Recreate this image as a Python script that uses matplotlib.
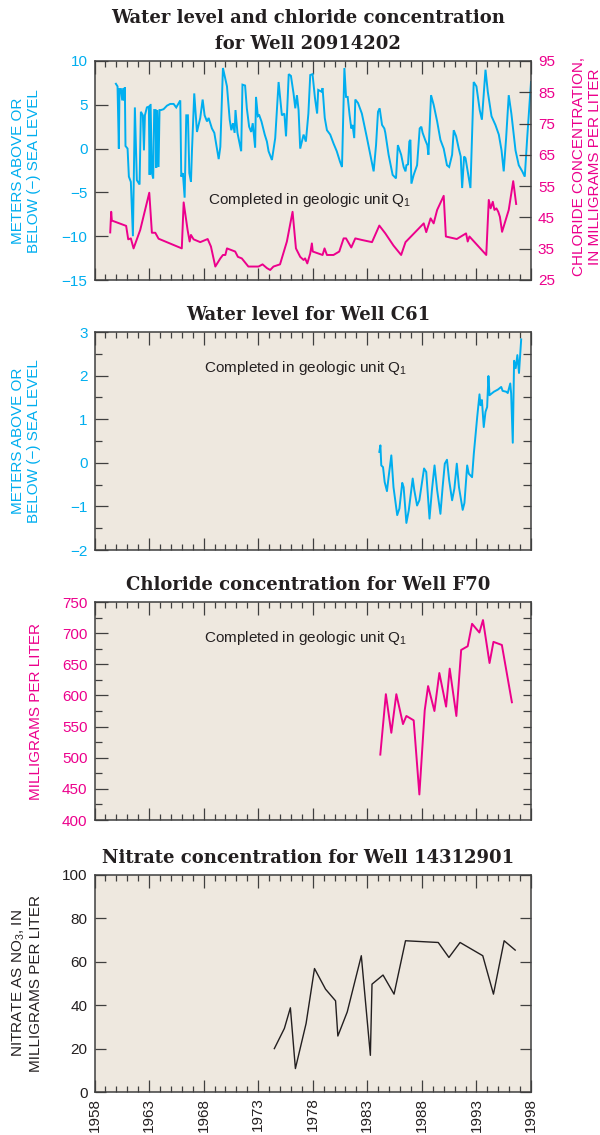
import numpy as np
import matplotlib
matplotlib.use("Agg")
import matplotlib.pyplot as plt
import matplotlib.transforms as mtransforms
from matplotlib.ticker import MultipleLocator, FixedLocator

plt.rcParams['font.family'] = ['Liberation Sans', 'DejaVu Sans']
plt.rcParams['mathtext.fontset'] = 'custom'
plt.rcParams['mathtext.rm'] = 'Liberation Sans'
plt.rcParams['mathtext.it'] = 'Liberation Sans:italic'
plt.rcParams['axes.unicode_minus'] = True

# ---------------- data ----------------
# Well 20914202 water level (m above/below sea level)
wl1_year = [1959.96, 1960.11, 1960.23, 1960.29, 1960.42, 1960.54, 1960.63, 1960.72, 1960.78, 1960.84,
            1961.03, 1961.15, 1961.33, 1961.52, 1961.70, 1961.88, 1962.13, 1962.25, 1962.43, 1962.53,
            1962.62, 1962.80, 1962.98, 1963.05, 1963.14, 1963.26, 1963.38, 1963.47, 1963.60, 1963.66,
            1963.75, 1963.87, 1963.96, 1964.09, 1964.33, 1964.64, 1964.94, 1965.25, 1965.49, 1965.86,
            1965.95, 1966.10, 1966.26, 1966.41, 1966.56, 1966.69, 1966.84, 1966.93, 1967.14, 1967.39,
            1967.69, 1967.91, 1968.09, 1968.31, 1968.46, 1968.76, 1968.98, 1969.38, 1969.53, 1969.77,
            1970.14, 1970.39, 1970.54, 1970.69, 1970.84, 1970.92, 1971.10, 1971.44, 1971.56, 1971.80,
            1971.96, 1972.17, 1972.36, 1972.50, 1972.72, 1972.80, 1972.97, 1973.10, 1973.30, 1973.60,
            1973.80, 1973.95, 1974.26, 1974.56, 1974.87, 1975.17, 1975.40, 1975.55, 1975.80, 1976.00,
            1976.24, 1976.40, 1976.55, 1976.70, 1976.85, 1977.16, 1977.37, 1977.60, 1977.77, 1977.98,
            1978.20, 1978.40, 1978.50, 1978.80, 1978.90, 1979.10, 1979.30, 1979.60, 1979.90, 1980.20,
            1980.50, 1980.68, 1980.77, 1980.90, 1981.05, 1981.20, 1981.38, 1981.53, 1981.65, 1981.80,
            1981.90, 1982.15, 1982.50, 1982.97, 1983.27, 1983.58, 1983.80, 1983.98, 1984.13, 1984.35,
            1984.56, 1984.65, 1984.95, 1985.32, 1985.63, 1985.80, 1986.10, 1986.33, 1986.50, 1986.58,
            1986.73, 1986.85, 1986.95, 1987.04, 1987.25, 1987.56, 1987.80, 1987.95, 1988.07, 1988.30,
            1988.50, 1988.60, 1988.84, 1989.08, 1989.40, 1989.70, 1990.00, 1990.30, 1990.50, 1990.77,
            1990.92, 1991.14, 1991.38, 1991.56, 1991.69, 1991.87, 1992.00, 1992.20, 1992.45, 1992.75,
            1993.00, 1993.30, 1993.50, 1993.83, 1994.04, 1994.38, 1994.74, 1995.05, 1995.30, 1995.50,
            1995.72, 1995.96, 1996.20, 1996.58, 1996.88, 1997.20, 1997.43, 1997.65, 1998.00]
wl1_value = [7.4, 7.1, 0.0, 6.8, 6.8, 5.5, 6.9, 5.5, 7.0, 0.3,
             0.0, -3.2, -3.8, -10.0, 4.7, -3.6, -4.1, 4.2, 3.8, -0.2,
             3.8, 4.7, 4.8, -3.0, 5.1, -2.8, -3.4, 4.4, 4.4, -2.2,
             4.4, -2.1, 4.4, 4.4, 4.5, 4.9, 5.1, 5.1, 4.7, 5.5,
             -3.2, -2.8, -5.6, 3.8, 3.8, -2.8, -3.8, -0.3, 6.3, 1.9,
             3.5, 5.6, 3.8, 3.1, 3.5, 2.3, 1.8, -1.2, 0.2, 9.2,
             7.1, 3.3, 2.1, 2.9, 1.8, 4.4, 1.8, -0.3, 7.3, 7.2,
             4.6, 2.5, 1.9, 2.9, 0.1, 5.9, 3.7, 3.8, 3.1, 1.6,
             0.8, -0.3, -1.3, 1.2, 7.6, 3.8, 4.0, 1.4, 8.5, 8.3,
             6.3, 4.6, 6.1, 4.4, 0.0, 1.6, 0.8, 4.0, 8.4, 8.5,
             5.8, 4.0, 6.7, 6.5, 6.9, 3.5, 2.1, 1.6, 0.6, -0.3,
             -1.5, -2.1, 2.7, 9.2, 5.9, 5.9, 3.8, 2.3, 2.7, 1.2,
             5.6, 5.2, 4.0, 1.2, -0.7, -2.6, 0.4, 4.2, 4.6, 2.7,
             2.3, 1.8, -0.7, -3.0, -3.4, 0.4, -0.7, -2.1, -2.6, -1.9,
             -1.8, 0.8, 1.0, -4.0, -3.0, -1.9, 2.3, 2.5, 1.8, 1.0,
             0.4, -0.7, 6.1, 5.0, 3.1, 1.0, 0.0, -1.9, -2.1, -0.7,
             2.1, 1.4, 0.0, -0.9, -4.5, -0.9, -1.1, -2.6, -4.5, 7.6,
             7.1, 4.4, 3.3, 9.0, 6.5, 3.7, 2.7, 1.6, -0.2, -2.6,
             1.2, 6.1, 4.0, -0.2, -1.9, -2.6, -3.2, 1.2, 7.6]

# Well 20914202 chloride (mg/L)
cl1_year = [1959.44, 1959.53, 1959.59, 1960.90, 1961.09, 1961.33, 1961.58, 1962.19, 1963.02, 1963.26,
            1963.57, 1963.87, 1966.00, 1966.17, 1966.53, 1966.72, 1966.84, 1967.08, 1967.69, 1968.37,
            1968.67, 1969.07, 1969.53, 1969.77, 1969.99, 1970.14, 1970.89, 1971.14, 1971.50, 1972.10,
            1973.03, 1973.40, 1973.80, 1974.10, 1974.40, 1975.00, 1975.63, 1976.15, 1976.46, 1976.85,
            1977.16, 1977.30, 1977.50, 1977.77, 1977.92, 1978.00, 1978.90, 1979.08, 1979.30, 1979.90,
            1980.43, 1980.83, 1981.05, 1981.53, 1981.90, 1982.50, 1983.43, 1984.10, 1984.65, 1985.40,
            1986.10, 1986.50, 1988.17, 1988.40, 1988.80, 1989.08, 1989.40, 1990.00, 1990.20, 1991.20,
            1992.05, 1992.20, 1992.36, 1993.90, 1994.13, 1994.30, 1994.50, 1994.65, 1994.83, 1995.00,
            1995.15, 1995.35, 1995.96, 1996.37, 1996.64]
cl1_value = [40.2, 46.8, 44.0, 42.3, 38.0, 38.3, 35.1, 41.0, 52.9, 40.1,
             40.1, 38.2, 35.1, 49.8, 41.0, 37.3, 39.4, 38.0, 37.1, 38.1,
             35.7, 29.3, 31.9, 33.0, 33.0, 35.1, 34.1, 32.4, 31.9, 29.3,
             29.3, 30.0, 28.8, 28.2, 29.3, 30.0, 37.3, 46.8, 35.1, 32.4,
             31.4, 31.9, 30.3, 33.5, 36.7, 34.1, 33.0, 35.1, 33.0, 33.0,
             34.1, 38.3, 38.3, 35.4, 38.3, 37.8, 37.1, 42.4, 39.9, 36.0,
             33.0, 37.1, 43.1, 40.3, 44.7, 43.1, 47.4, 51.9, 38.9, 38.1,
             39.9, 37.3, 38.9, 33.0, 50.6, 47.9, 50.0, 47.4, 47.9, 46.8,
             45.2, 40.4, 47.4, 56.6, 49.3]

# Well C61 water level (m)
wl2_year = [1984.10, 1984.20, 1984.28, 1984.44, 1984.59, 1984.80, 1984.95, 1985.20, 1985.40, 1985.74,
            1985.94, 1986.20, 1986.33, 1986.58, 1986.80, 1987.16, 1987.30, 1987.56, 1987.77, 1988.20,
            1988.40, 1988.70, 1988.92, 1989.16, 1989.40, 1989.70, 1989.90, 1990.10, 1990.30, 1990.50,
            1990.77, 1990.98, 1991.20, 1991.40, 1991.74, 1991.90, 1992.15, 1992.30, 1992.60, 1992.76,
            1993.07, 1993.28, 1993.37, 1993.50, 1993.67, 1993.83, 1993.98, 1994.10, 1994.20, 1994.60,
            1994.97, 1995.27, 1995.40, 1995.73, 1995.87, 1996.10, 1996.18, 1996.33, 1996.45, 1996.60,
            1996.75, 1996.90, 1997.10]
wl2_value = [0.25, 0.40, -0.06, -0.10, -0.44, -0.65, -0.33, 0.17, -0.56, -1.20,
             -1.05, -0.46, -0.56, -1.38, -1.09, -0.36, -0.62, -0.98, -0.86, -0.13,
             -0.21, -1.28, -0.63, -0.06, -0.63, -1.17, -0.56, -0.02, 0.07, -0.40,
             -0.86, -0.59, -0.02, -0.56, -1.08, -0.92, -0.06, -0.25, -0.33, 0.21,
             1.05, 1.57, 1.32, 1.44, 0.82, 1.17, 1.28, 1.99, 1.55, 1.63,
             1.68, 1.74, 1.65, 1.63, 1.60, 1.82, 1.59, 0.46, 2.34, 2.17,
             2.47, 2.06, 2.83]

# Well F70 chloride (mg/L)
cl3_year = [1984.19, 1984.70, 1985.20, 1985.66, 1986.27, 1986.58, 1987.25, 1987.77, 1988.26, 1988.57,
            1989.15, 1989.60, 1990.22, 1990.55, 1991.16, 1991.60, 1992.20, 1992.60, 1993.27, 1993.60,
            1994.20, 1994.56, 1995.33, 1996.25]
cl3_value = [505, 602, 540, 602, 554, 567, 560, 441, 576, 615,
             575, 636, 582, 643, 567, 673, 679, 715, 701, 721,
             652, 686, 681, 589]

# Well 14312901 nitrate as NO3 (mg/L)
no3_year = [1974.48, 1975.40, 1975.95, 1976.41, 1977.39, 1978.16, 1979.17, 1980.09, 1980.30, 1981.16,
            1982.45, 1983.28, 1983.43, 1984.44, 1985.45, 1986.50, 1989.50, 1990.48, 1991.50, 1993.58,
            1994.56, 1995.54, 1996.55]
no3_value = [20.0, 29.3, 38.8, 10.8, 31.6, 56.9, 47.4, 42.0, 25.8, 36.9,
             62.8, 16.9, 49.7, 53.9, 45.1, 69.7, 68.9, 62.0, 68.9, 62.8,
             45.1, 69.7, 65.4]

year_ticks = list(range(1958, 1999, 5))

# ---------------- style ----------------
CYAN = '#00AEEF'
MAGENTA = '#EC008C'
DARK = '#231F20'
BG = '#EEE8DF'
SPINE = '#3F3F3F'
W, H = 600, 1135

fig = plt.figure(figsize=(W / 100, H / 100), dpi=100)


def make_ax(top_px, bottom_px):
    left, right = 94.5, 531.0
    ax = fig.add_axes([left / W, 1 - bottom_px / H, (right - left) / W, (bottom_px - top_px) / H])
    ax.set_facecolor(BG)
    for s in ax.spines.values():
        s.set_color(SPINE)
        s.set_linewidth(1.1)
    ax.set_xlim(1958, 1998)
    ax.xaxis.set_major_locator(FixedLocator(year_ticks))
    ax.xaxis.set_minor_locator(MultipleLocator(1))
    ax.tick_params(axis='x', which='both', direction='in', top=True, bottom=True,
                   color=SPINE, width=0.9)
    ax.tick_params(axis='x', which='major', length=9)
    ax.tick_params(axis='x', which='minor', length=4.5)
    ax.tick_params(axis='y', which='both', direction='in', color=SPINE, width=0.9,
                   labelsize=11, pad=5)
    ax.tick_params(axis='y', which='major', length=9)
    ax.tick_params(axis='y', which='minor', length=5)
    ax.tick_params(axis='x', labelbottom=False)
    return ax


def right_ticks(ax, ticks, length):
    r = ax.twinx()
    r.set_ylim(ax.get_ylim())
    r.set_yticks(ticks)
    r.tick_params(axis='y', direction='in', length=length, width=0.9, color=SPINE,
                  labelright=False)
    for s in r.spines.values():
        s.set_visible(False)
    return r


def title(ax, text):
    tr = mtransforms.offset_copy(ax.transAxes, fig=fig, x=0, y=8, units='dots')
    ax.text(0.49, 1.0, text, transform=tr, ha='center', va='bottom',
            fontsize=13, fontweight='bold', family='DejaVu Serif', color=DARK,
            linespacing=1.55)


def note(ax, x, y):
    ax.text(x, y, 'Completed in geologic unit Q$_1$', transform=ax.transAxes,
            ha='left', va='center', fontsize=11, color=DARK)


def ylab(x_px, y_px, text, color, ls=1.15):
    fig.text(x_px / W, 1 - y_px / H, text, rotation=90, ha='center', va='center',
             fontsize=11, color=color, multialignment='center', linespacing=ls)


# ---- Panel 1 ----
ax1 = make_ax(61, 280)
ax1.set_ylim(-15, 10)
ax1.set_yticks([-15, -10, -5, 0, 5, 10])
ax1.tick_params(axis='y', labelcolor=CYAN, right=False)
ax1.plot(wl1_year, wl1_value, color=CYAN, lw=1.4, solid_joinstyle='miter')
ax1b = ax1.twinx()
ax1b.set_ylim(25, 95)
ax1b.set_yticks([25, 35, 45, 55, 65, 75, 85, 95])
ax1b.tick_params(axis='y', direction='in', length=9, width=0.9, color=SPINE,
                 labelcolor=MAGENTA, labelsize=11, pad=5)
for s in ax1b.spines.values():
    s.set_visible(False)
ax1b.plot(cl1_year, cl1_value, color=MAGENTA, lw=1.4)
title(ax1, 'Water level and chloride concentration\nfor Well 20914202')
note(ax1, 0.26, 0.365)
ylab(26, 171, 'METERS ABOVE OR\nBELOW (\u2212) SEA LEVEL', CYAN)
ylab(587, 167, 'CHLORIDE CONCENTRATION,\nIN MILLIGRAMS PER LITER', MAGENTA, ls=1.15)

# ---- Panel 2 ----
ax2 = make_ax(332, 550)
ax2.set_ylim(-2, 3)
ax2.set_yticks([-2, -1, 0, 1, 2, 3])
ax2.yaxis.set_minor_locator(MultipleLocator(0.5))
ax2.tick_params(axis='y', labelcolor=CYAN, right=False, which='both')
ax2.plot(wl2_year, wl2_value, color=CYAN, lw=1.4)
right_ticks(ax2, np.arange(-1.5, 3.0, 0.5), 6)
title(ax2, 'Water level for Well C61')
note(ax2, 0.251, 0.835)
ylab(26, 441, 'METERS ABOVE OR\nBELOW (\u2212) SEA LEVEL', CYAN)

# ---- Panel 3 ----
ax3 = make_ax(602, 820)
ax3.set_ylim(400, 750)
ax3.set_yticks(list(range(400, 751, 50)))
ax3.yaxis.set_minor_locator(MultipleLocator(25))
ax3.tick_params(axis='y', labelcolor=MAGENTA, right=False, which='both')
ax3.plot(cl3_year, cl3_value, color=MAGENTA, lw=1.4)
right_ticks(ax3, list(range(425, 750, 25)), 6)
title(ax3, 'Chloride concentration for Well F70')
note(ax3, 0.251, 0.835)
ylab(36, 711, 'MILLIGRAMS PER LITER', MAGENTA)

# ---- Panel 4 ----
ax4 = make_ax(875, 1092)
ax4.set_ylim(0, 100)
ax4.set_yticks(list(range(0, 101, 20)))
ax4.tick_params(axis='y', labelcolor=DARK, right=True, which='major', length=8)
ax4.plot(no3_year, no3_value, color=DARK, lw=1.0)
ax4.tick_params(axis='x', labelbottom=True, labelrotation=90, labelsize=11,
                labelcolor=DARK, pad=4)
title(ax4, 'Nitrate concentration for Well 14312901')
ylab(27, 983, 'NITRATE AS NO$_3$, IN\nMILLIGRAMS PER LITER', DARK)

fig.savefig('out.png', dpi=100, facecolor='white')
